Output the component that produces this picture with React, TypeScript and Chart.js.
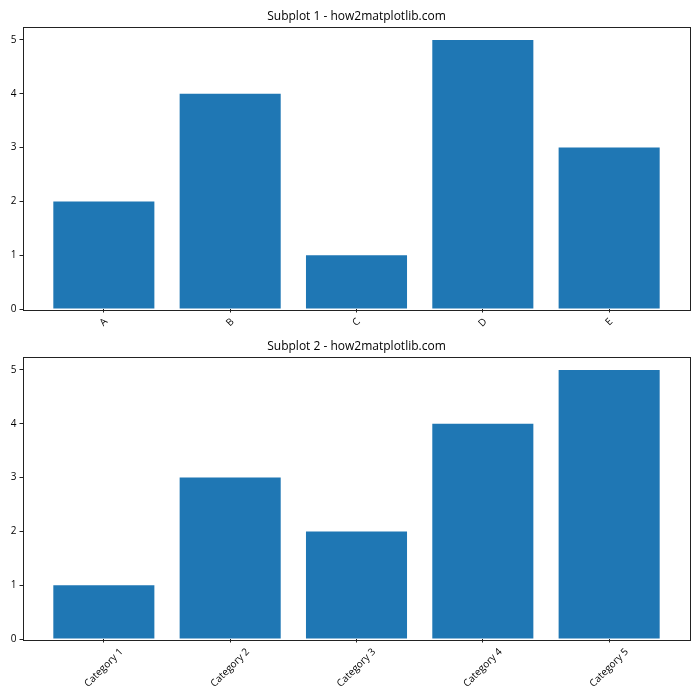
import React, { useEffect, useRef } from "react";
import { Chart, registerables } from "chart.js";

Chart.register(...registerables);

const categories1 = ["A", "B", "C", "D", "E"];
const values1 = [2, 4, 1, 5, 3];
const categories2 = ["Category 1", "Category 2", "Category 3", "Category 4", "Category 5"];
const values2 = [1, 3, 2, 4, 5];
const yTicks = [0, 1, 2, 3, 4, 5];
const titles = ["Subplot 1 - how2matplotlib.com", "Subplot 2 - how2matplotlib.com"];

const FONT = "'Open Sans', 'Noto Sans', sans-serif";
const TICK_LEN = 3.5;
const TICK_PAD = 3.4;
const TICK_FONT_SIZE = 10;
const TITLE_FONT_SIZE = 12;

const framePlugin = {
  id: "frame",
  afterDraw(chart: any) {
    const { ctx, chartArea } = chart;
    const opts = chart.options.plugins.frame || {};
    ctx.save();
    ctx.strokeStyle = "#222";
    ctx.lineWidth = 1;
    ctx.strokeRect(
      Math.round(chartArea.left) + 0.5,
      Math.round(chartArea.top) + 0.5,
      Math.round(chartArea.right - chartArea.left),
      Math.round(chartArea.bottom - chartArea.top)
    );
    // title centered over the axes
    ctx.fillStyle = "#000";
    ctx.font = `${TITLE_FONT_SIZE}px ${FONT}`;
    ctx.textAlign = "center";
    ctx.textBaseline = "alphabetic";
    ctx.fillText(opts.title || "", (chartArea.left + chartArea.right) / 2, chartArea.top - 7);
    // rotated, centered x labels (matplotlib-style rotation=45, ha=center)
    const labels: string[] = opts.labels || [];
    const xs = chart.scales.x;
    ctx.font = `${TICK_FONT_SIZE}px ${FONT}`;
    ctx.textAlign = "center";
    ctx.textBaseline = "middle";
    const h = TICK_FONT_SIZE * 1.2;
    labels.forEach((lab, i) => {
      const x = xs.getPixelForValue(i);
      const w = ctx.measureText(lab).width;
      const half = ((w + h) * Math.SQRT1_2) / 2;
      const y = chartArea.bottom + TICK_LEN + TICK_PAD + half;
      ctx.save();
      ctx.translate(x, y);
      ctx.rotate(-Math.PI / 4);
      ctx.fillText(lab, 0, 0);
      ctx.restore();
    });
    ctx.restore();
  },
};

function makeConfig(labels: string[], values: number[], title: string, xHeight: number): any {
  return {
    type: "bar",
    data: {
      datasets: [
        {
          data: values.map((v, i) => ({ x: i, y: v })),
          backgroundColor: "#1f77b4",
          borderColor: "#1f77b4",
          borderWidth: 0,
          barPercentage: 0.8,
          categoryPercentage: 1,
        },
      ],
    },
    options: {
      animation: false,
      responsive: false,
      maintainAspectRatio: false,
      layout: { padding: { left: 0, right: 10, top: 26.5, bottom: 0 } },
      plugins: {
        legend: { display: false },
        tooltip: { enabled: false },
        title: { display: false },
        frame: { labels, title },
      },
      scales: {
        x: {
          type: "linear",
          min: -0.64,
          max: labels.length - 1 + 0.64,
          offset: false,
          afterBuildTicks: (scale: any) => {
            scale.ticks = labels.map((_, i) => ({ value: i }));
          },
          afterFit: (scale: any) => {
            scale.height = xHeight;
          },
          ticks: {
            display: false,
            autoSkip: false,
          },
          grid: {
            display: true,
            offset: false,
            drawOnChartArea: false,
            drawTicks: true,
            tickLength: TICK_LEN,
            color: "#222",
          },
          border: { display: false },
        },
        y: {
          min: 0,
          max: 5.25,
          afterBuildTicks: (scale: any) => {
            scale.ticks = yTicks.map((v) => ({ value: v }));
          },
          afterFit: (scale: any) => {
            scale.width = 23;
          },
          ticks: {
            color: "#000",
            font: { family: FONT, size: TICK_FONT_SIZE },
            padding: 3,
          },
          grid: {
            display: true,
            drawOnChartArea: false,
            drawTicks: true,
            tickLength: TICK_LEN,
            color: "#222",
          },
          border: { display: false },
        },
      },
    },
    plugins: [framePlugin],
  };
}

export default function App() {
  const ref1 = useRef<HTMLCanvasElement>(null);
  const ref2 = useRef<HTMLCanvasElement>(null);

  useEffect(() => {
    const c1 = new Chart(ref1.current!, makeConfig(categories1, values1, titles[0], 41));
    const c2 = new Chart(ref2.current!, makeConfig(categories2, values2, titles[1], 61));
    return () => {
      c1.destroy();
      c2.destroy();
    };
  }, []);

  return (
    <div style={{ position: "fixed", left: 0, top: 0, width: 700, height: 700, background: "#fff" }}>
      <canvas ref={ref1} width={700} height={350} style={{ position: "absolute", left: 0, top: 0, width: 700, height: 350 }} />
      <canvas ref={ref2} width={700} height={370} style={{ position: "absolute", left: 0, top: 330, width: 700, height: 370 }} />
    </div>
  );
}
